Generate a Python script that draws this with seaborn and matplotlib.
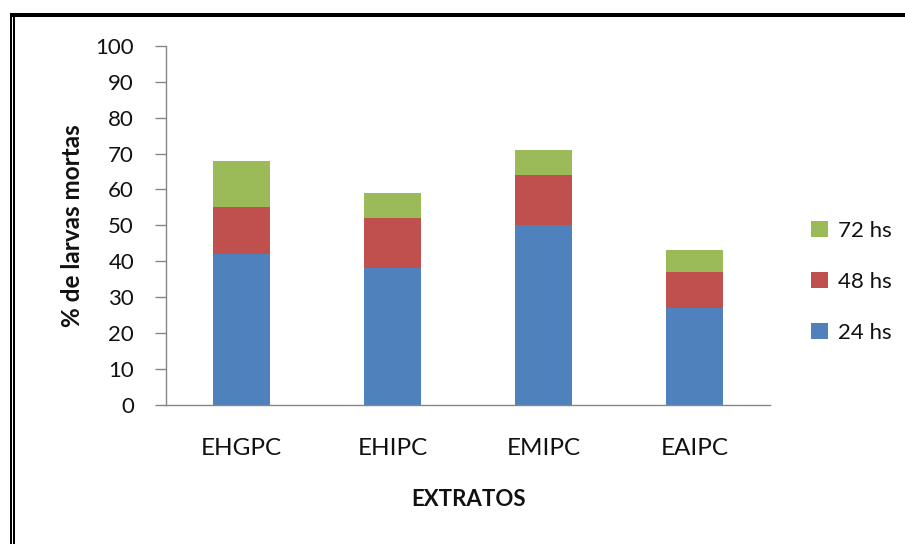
import matplotlib
matplotlib.use("Agg")
import matplotlib.pyplot as plt
import seaborn as sns
import numpy as np
import pandas as pd
from matplotlib.patches import Rectangle, Patch

# Data: percentage of dead larvae per extract, by exposure time
extratos = ["EHGPC", "EHIPC", "EMIPC", "EAIPC"]
mort_24h = [42, 38, 50, 27]
mort_48h = [13, 14, 14, 10]
mort_72h = [13, 7, 7, 6]
series_labels = ["24 hs", "48 hs", "72 hs"]
colors = ["#4F81BD", "#C0504D", "#9BBB59"]
y_ticks = list(range(0, 101, 10))

sns.set_theme(style="white")
plt.rcParams["font.family"] = ["Lato", "DejaVu Sans"]

fig = plt.figure(figsize=(9.05, 5.44), dpi=100)
ax = fig.add_axes([0.1834, 0.2564, 0.851 - 0.1834, 0.9154 - 0.2564])

df = pd.DataFrame({
    "extrato": extratos,
    "24": mort_24h,
    "48": mort_48h,
    "72": mort_72h,
})
df["c48"] = df["24"] + df["48"]
df["c72"] = df["c48"] + df["72"]

# Stacked bars: draw the cumulative totals back to front
for col, color in zip(["c72", "c48", "24"], colors[::-1]):
    sns.barplot(data=df, x="extrato", y=col, color=color, width=0.38,
                saturation=1, linewidth=0, ax=ax, order=extratos)

ax.set_ylim(0, 100)
ax.set_xlim(-0.5, 3.5)
ax.set_yticks(y_ticks)
ax.tick_params(axis="y", labelsize=16, length=8, width=1, color="#868686",
               direction="out", left=True, pad=15, labelcolor="#111111")
ax.tick_params(axis="x", labelsize=17.5, length=0, pad=24, labelcolor="#111111")

for side in ["top", "right"]:
    ax.spines[side].set_visible(False)
for side in ["left", "bottom"]:
    ax.spines[side].set_color("#868686")
    ax.spines[side].set_linewidth(1)

ax.set_xlabel("EXTRATOS", fontsize=16, fontweight="bold", labelpad=22,
              color="#111111")
ax.set_ylabel("% de larvas mortas", fontsize=17.5, fontweight="bold",
              labelpad=8, color="#111111")

handles = [Patch(facecolor=c, edgecolor="none") for c in colors[::-1]]
leg = ax.legend(handles, series_labels[::-1], loc="center left",
                bbox_to_anchor=(1.035, 0.342), frameon=False, fontsize=16,
                handlelength=0.75, handleheight=0.75, handletextpad=0.45,
                labelspacing=1.4)
for t in leg.get_texts():
    t.set_color("#111111")

# Page frame: thick top rule and double left rule
W, H = 905, 544
def frect(x0, y0, x1, y1):
    fig.patches.append(Rectangle((x0 / W, 1 - y1 / H), (x1 - x0) / W,
                                 (y1 - y0) / H, transform=fig.transFigure,
                                 facecolor="black", edgecolor="none"))
frect(10, 13, W, 17)
frect(10, 13, 11.6, H)
frect(13.4, 13, 15.4, H)

fig.savefig("out.png", dpi=100)
